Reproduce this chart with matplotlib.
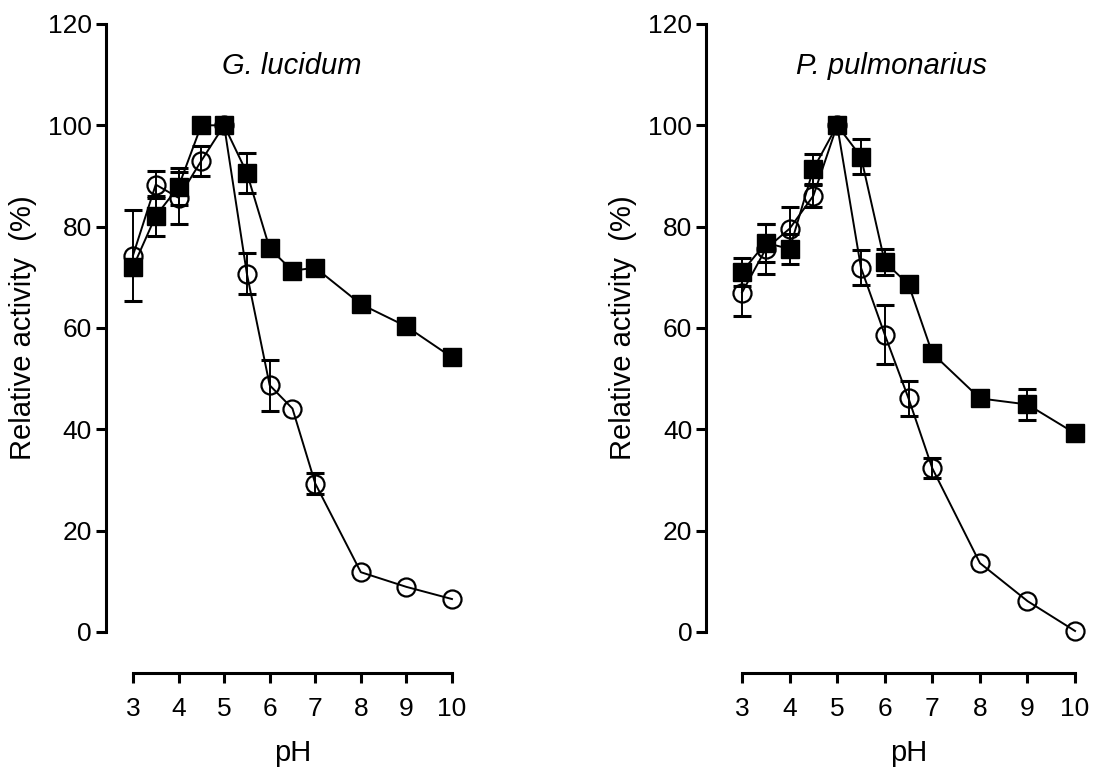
"""pH profiles of relative activity for G. lucidum and P. pulmonarius."""

import matplotlib

matplotlib.use("Agg")
import matplotlib.pyplot as plt

plt.rcParams["font.family"] = ["Liberation Sans", "DejaVu Sans"]

ph = [3, 3.5, 4, 4.5, 5, 5.5, 6, 6.5, 7, 8, 9, 10]

# G. lucidum
gl_square = [72.0, 82.1, 87.9, 100.0, 100.0, 90.6, 75.7, 71.3, 71.9, 64.7, 60.3, 54.2]
gl_square_err = [1.5, 3.9, 3.7, 1.0, 1.0, 4.0, 1.0, 1.0, 1.0, 1.0, 1.0, 1.0]
gl_circle = [74.3, 88.3, 85.7, 93.0, 100.0, 70.7, 48.7, 44.1, 29.3, 11.8, 8.9, 6.5]
gl_circle_err = [9.0, 2.7, 5.1, 3.0, 0, 4.0, 5.0, 0, 2.0, 0, 0, 0]

# P. pulmonarius
pp_square = [71.1, 76.8, 75.6, 91.4, 100.0, 93.8, 73.0, 68.6, 55.0, 46.1, 44.9, 39.2]
pp_square_err = [2.8, 3.8, 3.0, 3.0, 1.0, 3.5, 2.5, 1.0, 1.0, 1.0, 3.0, 1.5]
pp_circle = [67.0, 75.6, 79.6, 86.1, 100.0, 71.9, 58.7, 46.1, 32.3, 13.6, 6.1, 0.2]
pp_circle_err = [4.6, 5.0, 4.3, 2.2, 0, 3.4, 5.8, 3.5, 2.0, 0, 0, 0]

yticks = [0, 20, 40, 60, 80, 100, 120]
xticks = [3, 4, 5, 6, 7, 8, 9, 10]

panels = [
    ("G. lucidum", gl_square, gl_square_err, gl_circle, gl_circle_err,
     [0.1212, 0.1856, 0.2908, 0.7835], 19.4, (6.49, 111.8)),
    ("P. pulmonarius", pp_square, pp_square_err, pp_circle, pp_circle_err,
     [0.6764, 0.1856, 0.3036, 0.7835], 25.9, (6.15, 111.8)),
]

fig = plt.figure(figsize=(10.97, 7.76), dpi=100)

for title, sq, sq_err, ci, ci_err, rect, left_off, title_xy in panels:
    ax = fig.add_axes(rect)

    # open circles: error bars only where they stick out of the marker
    shown = [i for i, e in enumerate(ci_err) if e > 0]
    ax.errorbar([ph[i] for i in shown], [ci[i] for i in shown],
                yerr=[ci_err[i] for i in shown], fmt="none", ecolor="black",
                elinewidth=1.4, capsize=6.5, capthick=2.2, clip_on=False,
                zorder=3)
    ax.plot(ph, ci, "-o", color="black", mfc="none", mec="black", ms=13,
            mew=1.6, lw=1.4, clip_on=False, zorder=3)

    ax.errorbar(ph, sq, yerr=sq_err, fmt="s", color="black", mfc="black",
                mec="black", ms=13, elinewidth=1.4, capsize=6.5,
                capthick=2.2, ls="-", lw=1.4, clip_on=False, zorder=4)

    ax.set_xlim(3, 10)
    ax.set_ylim(0, 120)
    ax.set_xticks(xticks)
    ax.set_yticks(yticks)

    for side in ["top", "right"]:
        ax.spines[side].set_visible(False)
    ax.spines["left"].set_position(("outward", left_off))
    ax.spines["bottom"].set_position(("outward", 29.5))
    ax.spines["left"].set_linewidth(2.2)
    ax.spines["bottom"].set_linewidth(2.2)

    ax.tick_params(direction="out", length=7, width=2.2, labelsize=19)
    ax.tick_params(axis="y", pad=3)
    ax.tick_params(axis="x", pad=10)

    ax.set_xlabel("pH", fontsize=21, labelpad=13)
    ax.set_ylabel("Relative activity  (%)", fontsize=21, labelpad=8)
    ax.text(title_xy[0], title_xy[1], title, fontsize=21, style="italic",
            ha="center", va="center")

fig.savefig("out.png", dpi=100)
plt.close(fig)
